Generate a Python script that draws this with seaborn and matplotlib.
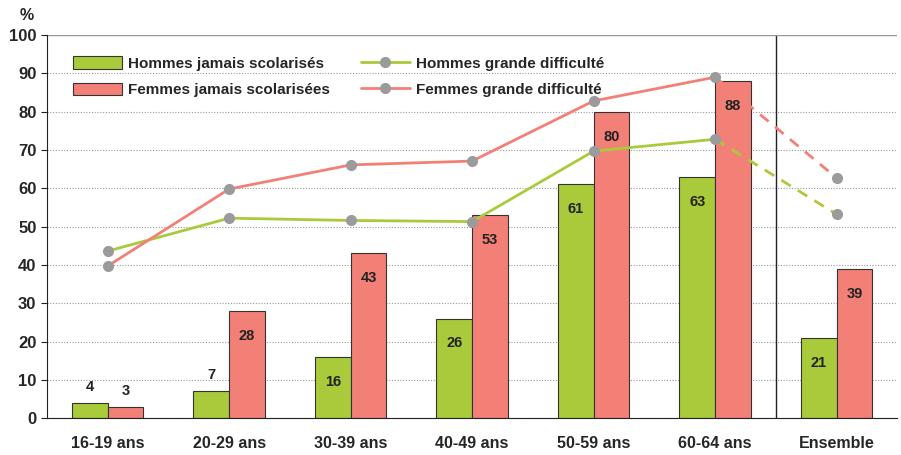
import pandas as pd
import numpy as np
import matplotlib.pyplot as plt
import seaborn as sns

categories = ['16-19 ans', '20-29 ans', '30-39 ans', '40-49 ans', '50-59 ans', '60-64 ans', 'Ensemble']
hommes_jamais = [4, 7, 16, 26, 61, 63, 21]
femmes_jamais = [3, 28, 43, 53, 80, 88, 39]
hommes_difficulte = [43.6, 52.2, 51.6, 51.3, 69.7, 72.8, 53.2]
femmes_difficulte = [39.7, 59.8, 66.1, 67.1, 82.8, 89.0, 62.7]

GREEN = '#A9CB3B'
RED = '#F38077'
GREY = '#9B9B9B'

sns.set_style('white')
plt.rcParams['font.family'] = ['Liberation Sans Narrow', 'Liberation Sans', 'DejaVu Sans']
plt.rcParams['font.weight'] = 'bold'

df = pd.DataFrame({
    'cat': categories * 2,
    'val': hommes_jamais + femmes_jamais,
    'serie': ['Hommes jamais scolarisés'] * 7 + ['Femmes jamais scolarisées'] * 7,
})

fig = plt.figure(figsize=(9.01, 4.55), dpi=100)
ax = fig.add_axes([0.052, 0.081, 0.944, 0.842])

sns.barplot(data=df, x='cat', y='val', hue='serie', palette=[GREEN, RED],
            saturation=1, width=0.59, edgecolor='#333333', linewidth=0.8, ax=ax, zorder=2)

# etiquettes de valeurs
for cont in ax.containers:
    for bar in cont:
        v = bar.get_height()
        xc = bar.get_x() + bar.get_width() / 2
        y = v + 4.2 if v < 10 else v - 6.5
        ax.text(xc, y, f'{v:.0f}', ha='center', va='center', fontsize=10.5,
                fontweight='bold', color='#222222', zorder=5)

# courbes : trait plein pour les âges, pointillé vers Ensemble
x = np.arange(len(categories))
for vals, col, lab in [(hommes_difficulte, GREEN, 'Hommes grande difficulté'),
                       (femmes_difficulte, RED, 'Femmes grande difficulté')]:
    ax.plot(x[:6], vals[:6], color=col, lw=2, zorder=3)
    ax.plot(x[5:], vals[5:], color=col, lw=2, ls=(0, (4, 3)), zorder=3)
    ax.plot(x, vals, ls='none', marker='o', ms=7, mfc=GREY, mec=GREY, zorder=4)
    ax.plot([], [], color=col, lw=2, marker='o', ms=7, mfc=GREY, mec=GREY, label=lab)

ax.axvline(5.5, color='#222222', lw=1, zorder=1)

ax.set_ylim(0, 100)
ax.set_xlim(-0.5, 6.41)
ax.set_yticks(range(0, 101, 10))
ax.yaxis.grid(True, ls=(0, (1, 1.5)), color='#999999', lw=0.8)
ax.set_axisbelow(True)
ax.axhline(100, color='#999999', lw=1)

for s in ['top', 'right']:
    ax.spines[s].set_visible(False)
ax.spines['left'].set_color('#222222')
ax.spines['bottom'].set_color('#222222')

ax.set_xlabel('')
ax.set_ylabel('')
ax.set_xticks(np.arange(-0.5, 7, 1), minor=True)
ax.tick_params(axis='x', which='major', length=0, pad=13, labelsize=11.5)
ax.tick_params(axis='x', which='minor', length=6, direction='out', color='#222222')
ax.tick_params(axis='y', length=4, direction='out', color='#222222', labelsize=12, left=True)
for t in ax.get_xticklabels() + ax.get_yticklabels():
    t.set_fontweight('bold')

fig.text(0.022, 0.955, '%', fontsize=11.5, fontweight='bold')

h, l = ax.get_legend_handles_labels()
order = [l.index('Hommes jamais scolarisés'), l.index('Femmes jamais scolarisées'),
         l.index('Hommes grande difficulté'), l.index('Femmes grande difficulté')]
ax.legend([h[i] for i in order], [l[i] for i in order], ncol=2, frameon=False,
          loc='upper left', bbox_to_anchor=(0.015, 0.98),
          handlelength=3.2, handleheight=0.9, handletextpad=0.4, columnspacing=2.0,
          labelspacing=0.75, prop={'weight': 'bold', 'size': 11})

fig.savefig('out.png', dpi=100)
